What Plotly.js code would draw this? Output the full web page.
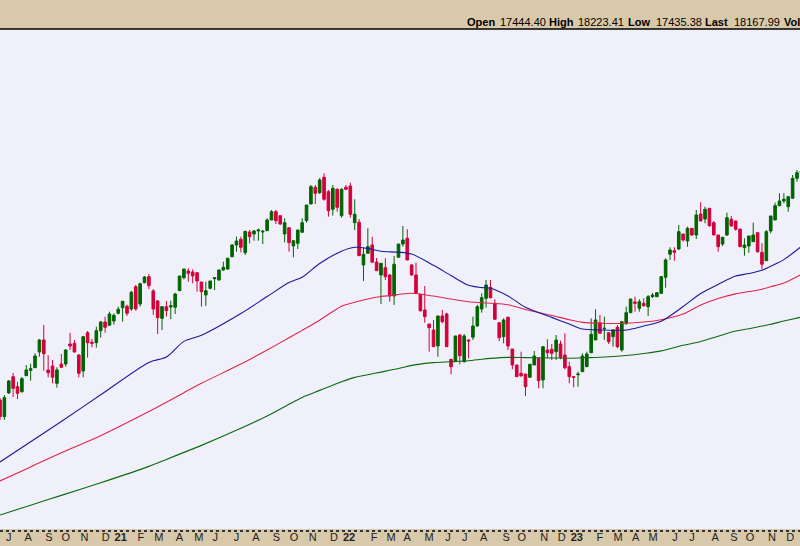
<!DOCTYPE html>
<html><head><meta charset="utf-8">
<script src="https://cdn.plot.ly/plotly-3.0.1.min.js"></script>
<style>html,body{margin:0;padding:0;background:#d9c9ab;}#chart{width:800px;height:546px;}</style>
</head><body><div id="chart"></div>
<script>
const firstWeek = '2020-06-22';
const open = [
10327,9853,10526,10989,10705,10563,11017,11170,11244,11690,
12031,11179,11293,10801,11349,11349,11917,11937,11605,11151,
12238,11966,11954,12295,12542,12449,12571,12789,12948,12988,
12911,13545,13053,13658,13829,13423,13139,12647,12977,12968,
12960,13431,13800,13991,13962,13942,13678,13309,13499,13772,
13735,14019,14047,14397,14729,14891,14510,15098,15041,15127,
15098,15135,15439,15675,15561,15041,15220,14701,14777,15090,
15419,15893,16368,16214,16652,16243,15743,16311,15561,16368,
16405,15362,15374,14161,14493,14729,14246,13877,14084,13877,
13281,14380,14757,14919,14161,13877,13329,12883,12485,12315,
11861,12713,12769,11483,11435,12173,11415,12031,12108,12429,
12911,13215,13528,13073,12522,12125,12676,11775,11321,11085,
11065,10972,11321,11511,10895,11747,11767,11699,11917,11605,
11273,10989,11046,11131,11273,11670,12031,12522,12352,12238,
12125,12392,11747,12505,12806,13110,12931,13073,12977,13261,
13261,13357,13812,14465,14567,14615,15041,14843,15203,15013,
15609,15467,15771,15362,15013,14757,15013,15459,15411,15183,
14652,14701,14823,15078,14522,14283,15127,15439,15845,15979,
15817,16055,16623,16790];
const high = [
10384,10469,10895,11094,10838,10980,11321,11358,11653,12059,
12457,11597,11463,11256,11633,11767,12238,12031,11625,12145,
12286,12059,12409,12571,12693,12835,12789,12977,13130,13034,
13423,13593,13658,13850,13905,13479,13167,12977,13139,13147,
13374,13849,14047,14067,14039,13942,13678,13687,13707,13800,
14039,14255,14368,14757,14965,14965,15118,15155,15155,15192,
15155,15487,15723,15723,15561,15487,15220,14851,15155,15487,
15865,16433,16433,16632,16765,16291,16433,16339,16339,16433,
16498,16027,15467,14664,15203,14965,14360,14209,14351,13905,
14417,14757,15269,15175,14190,14226,13329,13565,12485,12599,
12713,12883,12806,11483,12145,12201,12201,12051,12693,13025,
13357,13735,13735,13187,12522,12647,12693,11775,11321,11699,
11065,11341,11719,11511,11841,12051,11917,12173,12011,12221,
11415,10989,11131,11653,11699,12647,12903,12741,12693,12238,
12335,12457,12551,12977,13195,13261,13187,13215,13309,13366,
13394,13849,14351,14664,14664,15297,15041,15249,15212,15723,
15942,15817,15771,15411,15013,14948,15646,15553,15411,15183,
14919,14985,15362,15078,14777,15155,15553,15930,16197,16197,
16101,16717,16859,16970];
const low = [
9759,9759,10497,10412,10355,10534,11017,10875,11244,11557,
11159,10972,10801,10676,11236,11273,11747,11670,10972,10972,
11528,11824,11812,12096,12238,12449,12466,12761,12551,12713,
12863,12863,12977,13640,13479,12741,12201,12315,12693,12627,
12769,13431,13755,13687,13641,13403,12977,12997,13471,13451,
13715,13999,14019,14380,14539,14522,14445,14777,14851,14851,
14757,15135,15439,15325,15297,14806,14539,14380,14615,15090,
15362,15893,15893,16177,15987,15533,15561,15675,15504,16291,
15504,15155,14425,13707,14493,14238,13999,13053,13735,13119,
13025,14380,14681,14303,13860,13337,12835,12522,11699,11841,
11557,12505,11841,11057,11435,11341,11386,11511,12031,12409,
12806,12948,13215,12619,12003,11937,11747,11199,10989,10972,
10441,10972,11321,10659,10659,11511,11463,11463,11483,11199,
10801,10688,10705,11131,11273,11670,12031,12221,12031,11917,
11841,11795,11699,12457,12806,12835,12835,12977,12713,13224,
13252,13337,13516,14303,14283,14587,14823,14681,14985,14899,
15411,15345,15249,15013,14539,14701,14985,15249,15135,14681,
14425,14510,14823,14510,14039,14283,15061,15439,15845,15913,
15675,16055,16527,16750];
const close = [
9853,10392,10867,10659,10517,10932,11179,11216,11577,12031,
11642,11102,10972,11179,11256,11747,11861,11690,11085,12125,
11954,11937,12295,12542,12392,12769,12732,12903,13130,12789,
13386,12911,13630,13820,13573,12911,12664,12977,12863,13005,
13337,13849,14047,13925,13849,13707,13403,13431,13707,13800,
14019,14096,14351,14729,14843,14664,15118,14965,15127,15155,
15118,15439,15675,15419,15325,15362,14794,14851,15155,15362,
15865,16385,16197,16575,16027,15703,16339,15800,16311,16311,
15601,15601,14425,14465,14681,14238,13999,14209,13829,13281,
14181,14757,14871,14303,13877,13357,12863,12693,12380,11841,
12713,12551,11841,11273,12145,11585,12145,12003,12429,12977,
13232,13593,13232,12619,12096,12599,11861,11321,10989,11017,
10705,11341,11577,10875,11841,11670,11653,12031,11540,11244,
10989,10972,11065,11577,11633,12193,12599,12221,12363,11983,
12315,11841,12551,12806,13195,13073,13119,13005,13261,13309,
13374,13829,14303,14587,14522,15107,14871,15203,15013,15581,
15411,15743,15277,15013,14681,14948,15504,15269,15175,14681,
14729,14985,15013,14539,14181,15107,15553,15845,15979,16027,
16101,16623,16782,16830];

// moving averages read at selected weeks (index into the weekly series)
const maIdx = [0,7,14,23,34,38,42,46,55,61,66,69,73,78,81,84,87,91,94,99,103,107,110,112,116,120,126,130,133,137,143,147,151,156,160,164,168,171,174,176,179,183];
const maBlue = [8566,9143,9716,10475,11395,11548,11991,12164,12781,13264,13661,13814,14204,14553,14664,14632,14550,14524,14471,14152,13860,13584,13519,13502,13283,12960,12673,12483,12341,12315,12315,12429,12562,12980,13352,13610,13846,13917,14011,14127,14314,14689];
const maRed = [8027,8427,8827,9313,9998,10262,10534,10801,11347,11747,12094,12304,12593,12991,13102,13193,13264,13323,13360,13278,13195,13116,13090,13073,13031,12897,12727,12608,12531,12505,12505,12542,12608,12769,13025,13210,13340,13406,13474,13542,13647,13894];
const maGreen = [7061,7339,7618,7976,8441,8640,8839,9038,9523,9870,10205,10401,10600,10847,10969,11046,11119,11219,11310,11389,11412,11440,11483,11508,11537,11531,11520,11514,11526,11540,11591,11648,11721,11880,11988,12139,12284,12352,12426,12477,12568,12681];

const tickDates = ['2020-07-06','2020-08-06','2020-09-08','2020-10-05','2020-11-04','2020-12-08',
 '2021-01-01','2021-02-02','2021-03-03','2021-04-05','2021-05-06','2021-06-01','2021-07-05','2021-08-05','2021-09-07','2021-10-05','2021-11-04','2021-12-08',
 '2022-01-01','2022-02-10','2022-03-09','2022-04-04','2022-05-09','2022-06-08','2022-07-05','2022-08-04','2022-09-09','2022-10-04','2022-11-09','2022-12-07',
 '2022-12-31','2023-02-06','2023-03-07','2023-04-04','2023-05-02','2023-06-06','2023-07-03','2023-08-09','2023-09-08','2023-10-04','2023-11-08','2023-12-07'];
const tickText = ['J','A','S','O','N','D',
 '<b>21</b>','F','M','A','M','J','J','A','S','O','N','D',
 '<b>22</b>','F','M','A','M','J','J','A','S','O','N','D',
 '<b>23</b>','F','M','A','M','J','J','A','S','O','N','D'];

const hdrLabels = ['Open','High','Low','Last','Vol'];
const hdrValues = ['17444.40','18223.41','17435.38','18167.99'];

const t0 = Date.parse(firstWeek + 'T00:00:00Z');
const dates = open.map((_, i) => new Date(t0 + i * 7 * 86400000).toISOString().slice(0, 10));
const maDates = maIdx.map(k => dates[k]);

function maTrace(vals, color) {
  return {type:'scatter', mode:'lines', x:maDates, y:vals, hoverinfo:'skip',
    line:{color:color, width:1.1, shape:'spline', smoothing:0.8}};
}

const traces = [
  maTrace(maGreen, '#0b6b0b'),
  maTrace(maRed, '#e0244c'),
  maTrace(maBlue, '#1a1a9c'),
  {type:'candlestick', x:dates, open:open, high:high, low:low, close:close,
   whiskerwidth:0,
   increasing:{line:{color:'#006400', width:1}, fillcolor:'#006400'},
   decreasing:{line:{color:'#d4003a', width:1}, fillcolor:'#d4003a'},
   hoverinfo:'skip'}
];

const W = 800, H = 546, T = 29, B = 17;
const ph = H - T - B;
const labelX = [465, 547, 626, 703, 782];
const valueX = [498, 576, 654, 732];
const annotations = [];
hdrLabels.forEach((t, i) => annotations.push({xref:'paper', yref:'paper', x:labelX[i]/W, y:1 + (T-22)/ph,
  xanchor:'left', yanchor:'middle', showarrow:false, text:'<b>'+t+'</b>',
  font:{family:'Liberation Sans, Arial, sans-serif', size:11, color:'#000'}}));
hdrValues.forEach((t, i) => annotations.push({xref:'paper', yref:'paper', x:valueX[i]/W, y:1 + (T-22)/ph,
  xanchor:'left', yanchor:'middle', showarrow:false, text:t,
  font:{family:'Liberation Sans, Arial, sans-serif', size:11, color:'#000'}}));

const layout = {
  width:W, height:H,
  margin:{l:0, r:0, t:T, b:B, pad:0},
  paper_bgcolor:'#d9c9ab', plot_bgcolor:'#f0f0fa',
  showlegend:false, boxgap:0.15, hovermode:false,
  xaxis:{type:'date', range:[dates[0], '2023-12-22 19:12'], rangeslider:{visible:false},
    showgrid:false, zeroline:false, showline:false, ticks:'',
    tickmode:'array', tickvals:tickDates, ticktext:tickText,
    tickfont:{family:'Liberation Sans, Arial, sans-serif', size:11, color:'#222'}, fixedrange:true},
  yaxis:{range:[6663, 20863], visible:false, fixedrange:true},
  shapes:[
    {type:'line', xref:'paper', yref:'paper', x0:0, x1:1, y0:1, y1:1, line:{color:'#000', width:1.5}},
    {type:'line', xref:'paper', yref:'paper', x0:0, x1:1, y0:-2/ph, y1:-2/ph, line:{color:'#333', width:2, dash:'dot'}}
  ],
  annotations:annotations
};

Plotly.newPlot('chart', traces, layout, {staticPlot:true, displayModeBar:false});
</script>
</body></html>
